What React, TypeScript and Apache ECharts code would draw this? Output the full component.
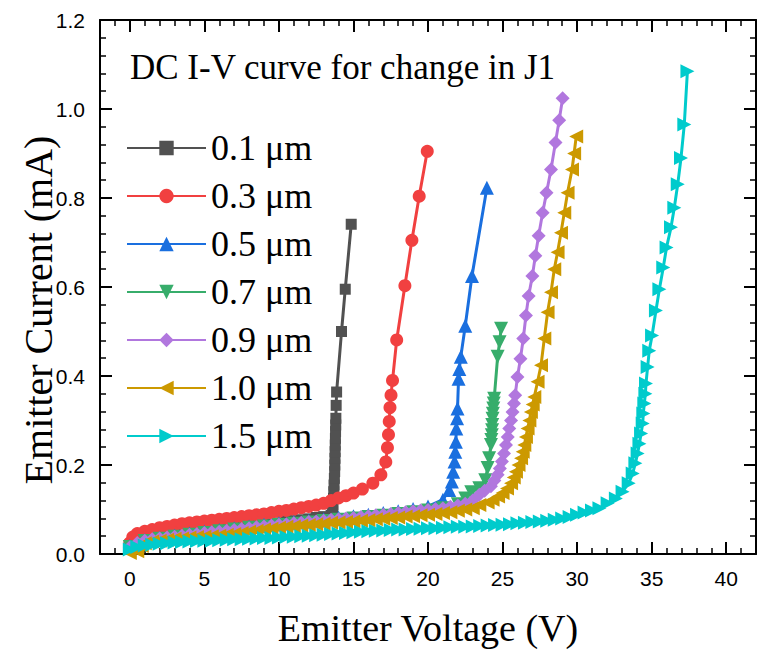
import { useEffect, useRef } from "react";
import * as echarts from "echarts";

// Legend labels (J1 thickness) for each sweep
const seriesNames = ["0.1 μm", "0.3 μm", "0.5 μm", "0.7 μm", "0.9 μm", "1.0 μm", "1.5 μm"];

// Axis tick values
const xMajorTicks = [0, 5, 10, 15, 20, 25, 30, 35, 40];

// [Emitter voltage (V), emitter current (mA)]
const j01: [number, number][] = [
  [0, 0.02], [0.5, 0.028], [1, 0.033], [1.5, 0.036], [2, 0.038], [2.5, 0.04], [3, 0.042], [3.5, 0.044],
  [4, 0.046], [4.5, 0.048], [5, 0.05], [5.5, 0.052], [6, 0.054], [6.5, 0.056], [7, 0.058], [7.5, 0.06],
  [8, 0.062], [8.5, 0.064], [9, 0.066], [9.5, 0.068], [10, 0.07], [10.5, 0.073], [11, 0.075], [11.5, 0.077],
  [12, 0.079], [12.5, 0.082], [13, 0.084], [13.5, 0.087], [13.6, 0.095], [13.63, 0.11], [13.66, 0.125],
  [13.68, 0.14], [13.7, 0.155], [13.72, 0.17], [13.74, 0.185], [13.75, 0.2], [13.76, 0.215], [13.77, 0.23],
  [13.78, 0.245], [13.79, 0.26], [13.8, 0.275], [13.81, 0.29], [13.82, 0.305], [13.84, 0.334], [13.87, 0.364],
  [14.2, 0.5], [14.45, 0.595], [14.85, 0.741],
];

const j03: [number, number][] = [
  [0, 0.025], [0.2, 0.038], [0.5, 0.046], [1, 0.051], [1.5, 0.055], [2, 0.059], [2.5, 0.062], [3, 0.065],
  [3.5, 0.068], [4, 0.07], [4.5, 0.072], [5, 0.074], [5.5, 0.076], [6, 0.078], [6.5, 0.08], [7, 0.082],
  [7.5, 0.084], [8, 0.086], [8.5, 0.088], [9, 0.09], [9.5, 0.093], [10, 0.096], [10.5, 0.098], [11, 0.101],
  [11.5, 0.104], [12, 0.107], [12.5, 0.11], [13, 0.114], [13.5, 0.12], [14, 0.126], [14.5, 0.131], [15, 0.137],
  [15.6, 0.146], [16.3, 0.159], [16.84, 0.178], [17.17, 0.207], [17.28, 0.239], [17.35, 0.268], [17.4, 0.298],
  [17.45, 0.329], [17.52, 0.357], [17.62, 0.39], [17.9, 0.481], [18.45, 0.603], [18.92, 0.705], [19.41, 0.804],
  [19.95, 0.905],
];

const j05: [number, number][] = [
  [0, 0.018], [1, 0.031], [2, 0.036], [3, 0.041], [4, 0.046], [5, 0.05], [6, 0.054], [7, 0.058], [8, 0.062],
  [9, 0.066], [10, 0.069], [11, 0.072], [12, 0.075], [13, 0.078], [14, 0.082], [15, 0.085], [16, 0.088],
  [17, 0.092], [18, 0.096], [19, 0.101], [20, 0.107], [21, 0.122], [21.42, 0.144], [21.6, 0.163],
  [21.69, 0.185], [21.78, 0.208], [21.83, 0.23], [21.87, 0.252], [21.9, 0.282], [21.95, 0.305], [21.98, 0.327],
  [22.05, 0.394], [22.1, 0.416], [22.2, 0.443], [22.5, 0.513], [22.95, 0.625], [23.95, 0.823],
];

const j07: [number, number][] = [
  [0, 0.016], [1, 0.029], [2, 0.034], [3, 0.039], [4, 0.043], [5, 0.047], [6, 0.051], [7, 0.055], [8, 0.059],
  [9, 0.062], [10, 0.065], [11, 0.068], [12, 0.071], [13, 0.074], [14, 0.077], [15, 0.08], [16, 0.083],
  [17, 0.086], [18, 0.09], [19, 0.094], [20, 0.098], [21, 0.103], [22, 0.112], [22.5, 0.125], [22.9, 0.139],
  [23.44, 0.148], [23.84, 0.166], [24.0, 0.193], [24.1, 0.215], [24.22, 0.245], [24.25, 0.256], [24.28, 0.267],
  [24.3, 0.278], [24.31, 0.29], [24.33, 0.304], [24.35, 0.315], [24.38, 0.327], [24.41, 0.338], [24.44, 0.349],
  [24.67, 0.443], [24.8, 0.476], [24.9, 0.506],
];

const j09: [number, number][] = [
  [0, 0.015], [0.5, 0.025], [1, 0.03], [1.5, 0.033], [2, 0.035], [2.5, 0.037], [3, 0.039], [3.5, 0.041],
  [4, 0.043], [4.5, 0.045], [5, 0.047], [5.5, 0.049], [6, 0.05], [6.5, 0.052], [7, 0.054], [7.5, 0.056],
  [8, 0.058], [8.5, 0.06], [9, 0.062], [9.5, 0.064], [10, 0.066], [10.5, 0.067], [11, 0.069], [11.5, 0.07],
  [12, 0.072], [12.5, 0.073], [13, 0.075], [13.5, 0.077], [14, 0.078], [14.5, 0.08], [15, 0.081], [15.5, 0.083],
  [16, 0.085], [16.5, 0.087], [17, 0.088], [17.5, 0.09], [18, 0.092], [18.5, 0.094], [19, 0.096], [19.5, 0.098],
  [20, 0.099], [20.5, 0.101], [21, 0.103], [21.5, 0.106], [22, 0.109], [22.5, 0.113], [23, 0.12], [23.44, 0.133],
  [23.8, 0.142], [24.22, 0.152], [24.45, 0.165], [24.67, 0.178], [24.82, 0.192], [24.96, 0.208], [25.1, 0.226],
  [25.23, 0.245], [25.35, 0.263], [25.45, 0.282], [25.57, 0.3], [25.67, 0.319], [25.77, 0.338], [25.85, 0.357],
  [26.0, 0.398], [26.2, 0.439], [26.39, 0.484], [26.57, 0.536], [26.75, 0.58], [27.0, 0.625], [27.2, 0.67],
  [27.42, 0.715], [27.69, 0.767], [27.95, 0.812], [28.25, 0.864], [28.55, 0.925], [28.8, 0.975], [29.03, 1.024],
];

const j10: [number, number][] = [
  [0, 0.002], [0.5, 0.006], [0.8, 0.018], [1, 0.024], [1.5, 0.028], [2, 0.03], [2.5, 0.032], [3, 0.034],
  [3.5, 0.035], [4, 0.037], [4.5, 0.038], [5, 0.039], [5.5, 0.04], [6, 0.041], [6.5, 0.043], [7, 0.045],
  [7.5, 0.047], [8, 0.05], [8.5, 0.052], [9, 0.055], [9.5, 0.057], [10, 0.059], [10.5, 0.061], [11, 0.062],
  [11.5, 0.064], [12, 0.065], [12.5, 0.067], [13, 0.068], [13.5, 0.07], [14, 0.071], [14.5, 0.072], [15, 0.073],
  [15.5, 0.075], [16, 0.076], [16.5, 0.078], [17, 0.079], [17.5, 0.081], [18, 0.082], [18.5, 0.084], [19, 0.085],
  [19.5, 0.087], [20, 0.088], [20.5, 0.09], [21, 0.092], [21.5, 0.094], [22, 0.097], [22.5, 0.1], [23, 0.103],
  [23.44, 0.11], [24.0, 0.116], [24.33, 0.122], [24.7, 0.129], [25.0, 0.137], [25.3, 0.147], [25.57, 0.159],
  [25.75, 0.172], [25.9, 0.185], [26.07, 0.2], [26.24, 0.215], [26.35, 0.23], [26.46, 0.245], [26.57, 0.263],
  [26.68, 0.282], [26.8, 0.3], [26.9, 0.319], [27.02, 0.336], [27.13, 0.353], [27.35, 0.387], [27.58, 0.424],
  [27.8, 0.484], [28.02, 0.543], [28.25, 0.588], [28.47, 0.64], [28.69, 0.678], [28.92, 0.722], [29.14, 0.767],
  [29.36, 0.812], [29.66, 0.864], [29.8, 0.9], [29.94, 0.938],
];

const j15: [number, number][] = [
  [0, 0.01], [0.5, 0.016], [1, 0.019], [1.5, 0.021], [2, 0.023], [2.5, 0.024], [3, 0.026], [3.5, 0.027],
  [4, 0.028], [4.5, 0.029], [5, 0.03], [5.5, 0.03], [6, 0.031], [6.5, 0.032], [7, 0.033], [7.5, 0.033],
  [8, 0.034], [8.5, 0.035], [9, 0.036], [9.5, 0.036], [10, 0.037], [10.5, 0.038], [11, 0.039], [11.5, 0.04],
  [12, 0.041], [12.5, 0.042], [13, 0.043], [13.5, 0.045], [14, 0.046], [14.5, 0.047], [15, 0.049], [15.5, 0.05],
  [16, 0.051], [16.5, 0.052], [17, 0.053], [17.5, 0.054], [18, 0.055], [18.5, 0.055], [19, 0.056], [19.5, 0.057],
  [20, 0.058], [20.5, 0.058], [21, 0.059], [21.5, 0.06], [22, 0.061], [22.5, 0.061], [23, 0.062], [23.5, 0.063],
  [24, 0.064], [24.5, 0.065], [25, 0.066], [25.5, 0.067], [26, 0.069], [26.5, 0.07], [27, 0.072], [27.5, 0.073],
  [28, 0.075], [28.5, 0.077], [29, 0.08], [29.5, 0.083], [30, 0.088], [30.5, 0.093], [31, 0.098], [31.5, 0.103],
  [32.05, 0.114], [32.6, 0.125], [33.05, 0.14], [33.46, 0.159], [33.73, 0.181], [33.91, 0.204], [34.06, 0.226],
  [34.18, 0.248], [34.29, 0.271], [34.4, 0.293], [34.44, 0.316], [34.51, 0.338], [34.58, 0.36], [34.62, 0.383],
  [34.73, 0.42], [34.84, 0.457], [35.03, 0.491], [35.29, 0.547], [35.52, 0.595], [35.78, 0.644], [36.0, 0.689],
  [36.3, 0.734], [36.52, 0.778], [36.75, 0.831], [36.97, 0.89], [37.19, 0.965], [37.4, 1.085],
];

const seriesData = [j01, j03, j05, j07, j09, j10, j15];

// Origin-style line palette and marker shapes
const palette = ["#515151", "#F14040", "#1A6FDF", "#37AD6B", "#B177DE", "#CC9900", "#00CBCC"];
const markers = ["rect", "circle", "triangle", "triangle", "diamond", "triangle", "triangle"];
const markerRotate = [0, 0, 0, 180, 0, 90, -90];
const markerSize = [11, 13, 14, 14, 14, 14, 14];

const SERIF = "'Liberation Serif', 'Times New Roman', serif";
const SANS = "'Liberation Sans', Arial, sans-serif";
const BLACK = "#000";

function majorXAxis(position: "bottom" | "top", withLabels: boolean) {
  return {
    type: "value" as const,
    position,
    min: -2,
    max: 42,
    interval: 1,
    axisLine: { show: true, onZero: false, lineStyle: { color: BLACK, width: 2 } },
    axisTick: { show: true, inside: true, length: 12, customValues: xMajorTicks, lineStyle: { color: BLACK, width: 2 } },
    axisLabel: withLabels
      ? { show: true, customValues: xMajorTicks, fontFamily: SANS, fontSize: 21, color: BLACK, margin: 14 }
      : { show: false },
    splitLine: { show: false },
    ...(withLabels
      ? {
          name: "Emitter Voltage (V)",
          nameLocation: "middle" as const,
          nameGap: 55,
          nameTextStyle: { fontFamily: SERIF, fontSize: 38, color: BLACK },
        }
      : {}),
  };
}

function minorXAxis(position: "bottom" | "top") {
  return {
    type: "value" as const,
    position,
    min: -2,
    max: 42,
    interval: 1,
    axisLine: { show: false, onZero: false },
    axisTick: { show: true, inside: true, length: 6, lineStyle: { color: BLACK, width: 1.5 } },
    axisLabel: { show: false },
    splitLine: { show: false },
  };
}

function yAxisDef(position: "left" | "right", withLabels: boolean) {
  return {
    type: "value" as const,
    position,
    min: 0,
    max: 1.2,
    interval: 0.2,
    axisLine: { show: true, onZero: false, lineStyle: { color: BLACK, width: 2 } },
    axisTick: { show: true, inside: true, length: 12, lineStyle: { color: BLACK, width: 2 } },
    minorTick: { show: true, splitNumber: 5, length: 6, lineStyle: { color: BLACK, width: 1.5 } },
    axisLabel: withLabels
      ? {
          show: true,
          fontFamily: SANS,
          fontSize: 21,
          color: BLACK,
          margin: 15,
          formatter: (v: number) => v.toFixed(1),
        }
      : { show: false },
    splitLine: { show: false },
    minorSplitLine: { show: false },
  };
}

export default function App() {
  const ref = useRef<HTMLDivElement>(null);

  useEffect(() => {
    if (!ref.current) return;
    const chart = echarts.init(ref.current, null, { renderer: "svg" });

    const option = {
      animation: false,
      backgroundColor: "#fff",
      title: {
        text: "DC I-V curve for change in J1",
        left: 130,
        top: 50,
        padding: 0,
        textStyle: { fontFamily: SERIF, fontSize: 35, fontWeight: "normal", color: BLACK },
      },
      legend: {
        data: seriesNames,
        orient: "vertical",
        left: 126,
        top: 130,
        padding: 0,
        itemWidth: 79,
        itemHeight: 18,
        itemGap: 12,
        selectedMode: false,
        textStyle: { fontFamily: SERIF, fontSize: 36, color: BLACK },
      },
      graphic: [
        {
          type: "text",
          x: 38,
          y: 310,
          rotation: Math.PI / 2,
          style: {
            text: "Emitter Current (mA)",
            fontFamily: SERIF,
            fontSize: 40,
            fill: BLACK,
            align: "center",
            verticalAlign: "middle",
          },
        },
      ],
      grid: { left: 100, top: 20, right: 1, bottom: 96, containLabel: false },
      xAxis: [majorXAxis("bottom", true), minorXAxis("bottom"), majorXAxis("top", false), minorXAxis("top")],
      yAxis: [yAxisDef("left", true), yAxisDef("right", false)],
      series: seriesNames.map((name, i) => ({
        name,
        type: "line",
        xAxisIndex: 0,
        yAxisIndex: 0,
        data: seriesData[i],
        symbol: markers[i],
        symbolSize: markerSize[i],
        symbolRotate: markerRotate[i],
        showAllSymbol: true,
        lineStyle: { color: palette[i], width: 3 },
        itemStyle: { color: palette[i] },
        emphasis: { disabled: true },
        z: 2 + i,
      })),
    };

    chart.setOption(option as any);
    return () => chart.dispose();
  }, []);

  return (
    <div
      ref={ref}
      style={{ position: "fixed", left: 0, top: 0, width: 757, height: 652, background: "#fff" }}
    />
  );
}
